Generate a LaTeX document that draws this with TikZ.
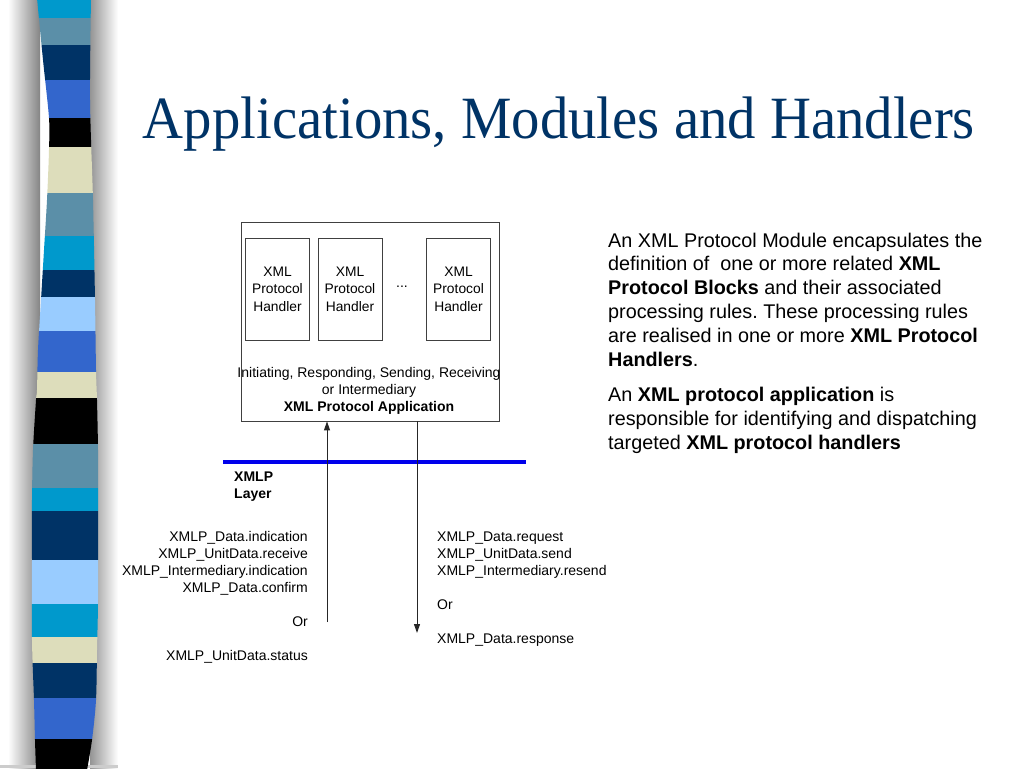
\documentclass[tikz,border=0pt]{standalone}
\usepackage{fontspec}
\setmainfont{Liberation Sans}
\newfontfamily\titlefont{Liberation Serif}
\usetikzlibrary{arrows.meta}
\frenchspacing
\definecolor{titleblue}{HTML}{003366}
\definecolor{cyanb}{HTML}{0099CC}
\definecolor{steelb}{HTML}{5B8FA8}
\definecolor{navyb}{HTML}{003366}
\definecolor{royalb}{HTML}{3366CC}
\definecolor{beigeb}{HTML}{DDDDBB}
\definecolor{lightb}{HTML}{99CCFF}
\definecolor{layerblue}{RGB}{0,0,235}
\begin{document}
\begin{tikzpicture}[x=1pt,y=-1pt,
  handler/.style={draw=black!75,line width=0.8pt,minimum width=64pt,minimum height=102pt,inner sep=0pt,align=center,font=\fontsize{13.8}{17.5}\selectfont},
  appbox/.style={draw=black!75,line width=0.8pt,minimum width=258pt,minimum height=199pt,inner sep=0pt},
  small/.style={font=\fontsize{14}{17}\selectfont,inner sep=0pt},
  smallb/.style={font=\fontsize{14}{17}\selectfont\bfseries,inner sep=0pt},
  body/.style={font=\fontsize{19.8}{24}\selectfont,inner sep=0pt,anchor=base west},
  conn/.style={line width=1pt,black!85},
  tip/.style={-{Triangle[length=9pt,width=6pt]}},
]
\useasboundingbox (0,0) rectangle (1024,768);
\fill[white] (0,0) rectangle (1024,768);
% shadows of the bar
\shade[left color=white,right color=black!48,draw=none] (8,0) rectangle (40,768);
\shade[left color=black!42,right color=white,draw=none] (90,0) rectangle (118,768);
\fill[black!20] (0,765) rectangle (118,768);
% striped bar
\begin{scope}
\clip plot[smooth] coordinates {(37,-2) (43,60) (49,118) (49,150) (47,200) (44,250) (41,300) (38,350) (37,390) (36,400) (33,450) (32,500) (32,560) (32,640) (34,700) (35,740) (36,770)}
  -- plot[smooth] coordinates {(87,770) (92,740) (96,700) (97,650) (98,600) (98,500) (98,450) (97,400) (96,370) (95,300) (93,200) (90,100) (91,-2)} -- cycle;
\fill[cyanb] (0,-2) rectangle (120,18);
\fill[steelb] (0,18) rectangle (120,45);
\fill[navyb] (0,45) rectangle (120,80);
\fill[royalb] (0,80) rectangle (120,118);
\fill[black] (0,118) rectangle (120,147);
\fill[beigeb] (0,147) rectangle (120,193);
\fill[steelb] (0,193) rectangle (120,236);
\fill[cyanb] (0,236) rectangle (120,270);
\fill[navyb] (0,270) rectangle (120,297);
\fill[lightb] (0,297) rectangle (120,331);
\fill[royalb] (0,331) rectangle (120,372);
\fill[beigeb] (0,372) rectangle (120,398);
\fill[black] (0,398) rectangle (120,444);
\fill[steelb] (0,444) rectangle (120,488);
\fill[cyanb] (0,488) rectangle (120,511);
\fill[navyb] (0,511) rectangle (120,560);
\fill[lightb] (0,560) rectangle (120,604);
\fill[cyanb] (0,604) rectangle (120,637);
\fill[beigeb] (0,637) rectangle (120,663);
\fill[navyb] (0,663) rectangle (120,698);
\fill[royalb] (0,698) rectangle (120,739);
\fill[black] (0,739) rectangle (120,770);
\end{scope}
% title
\node[anchor=base,inner sep=0pt,text=titleblue] (title) at (559,138)
  {\resizebox{832pt}{\height}{\titlefont\fontsize{60}{72}\selectfont Applications, Modules and Handlers}};
% application box and handlers
\node[appbox] (app) at (370,321.5) {};
\node[handler] (h1) at (277.5,289) {XML\\Protocol\\Handler};
\node[handler] (h2) at (350,289) {XML\\Protocol\\Handler};
\node[handler] (h3) at (458.5,289) {XML\\Protocol\\Handler};
\node[small,anchor=base] (dots) at (402,287) {...};
\node[small,align=center] (apptext) at (369,391)
  {Initiating, Responding, Sending, Receiving\\or Intermediary\\\textbf{XML Protocol Application}};
% XMLP layer
\coordinate (layerL) at (223,462);
\coordinate (layerR) at (526,462);
\draw[layerblue,line width=4pt] (layerL) -- (layerR);
\node[smallb,anchor=base west] (xmlp) at (234,481.5) {XMLP};
\node[smallb,anchor=base west] (layer) at (234,498.5) {Layer};
% arrows
\coordinate (upstart) at (327,622);
\coordinate (downend) at (417,633);
\draw[conn,tip] (upstart) -- (upstart |- app.south);
\draw[conn,tip] (downend |- app.south) -- (downend);
% left labels
\node[small,anchor=base east] (l1) at (308,541) {XMLP\_Data.indication};
\node[small,anchor=base east] (l2) at (308,558) {XMLP\_UnitData.receive};
\node[small,anchor=base east] (l3) at (308,575) {XMLP\_Intermediary.indication};
\node[small,anchor=base east] (l4) at (308,592) {XMLP\_Data.confirm};
\node[small,anchor=base east] (l5) at (308,626) {Or};
\node[small,anchor=base east] (l6) at (308,660) {XMLP\_UnitData.status};
% right labels
\node[small,anchor=base west] (r1) at (437,541) {XMLP\_Data.request};
\node[small,anchor=base west] (r2) at (437,558) {XMLP\_UnitData.send};
\node[small,anchor=base west] (r3) at (437,575) {XMLP\_Intermediary.resend};
\node[small,anchor=base west] (r4) at (437,609) {Or};
\node[small,anchor=base west] (r5) at (437,643) {XMLP\_Data.response};
% body text
\node[body] (t1) at (608,247) {An XML Protocol Module encapsulates the};
\node[body] (t2) at (608,270.8) {definition of\ \ one or more related \textbf{XML}};
\node[body] (t3) at (608,294.6) {\textbf{Protocol Blocks} and their associated};
\node[body] (t4) at (608,318.4) {processing rules. These processing rules};
\node[body] (t5) at (608,342.2) {are realised in one or more \textbf{XML Protocol}};
\node[body] (t6) at (608,366) {\textbf{Handlers}.};
\node[body] (t7) at (608,401.5) {An \textbf{XML protocol application} is};
\node[body] (t8) at (608,425.3) {responsible for identifying and dispatching};
\node[body] (t9) at (608,449.1) {targeted \textbf{XML protocol handlers}};
\end{tikzpicture}
\end{document}
